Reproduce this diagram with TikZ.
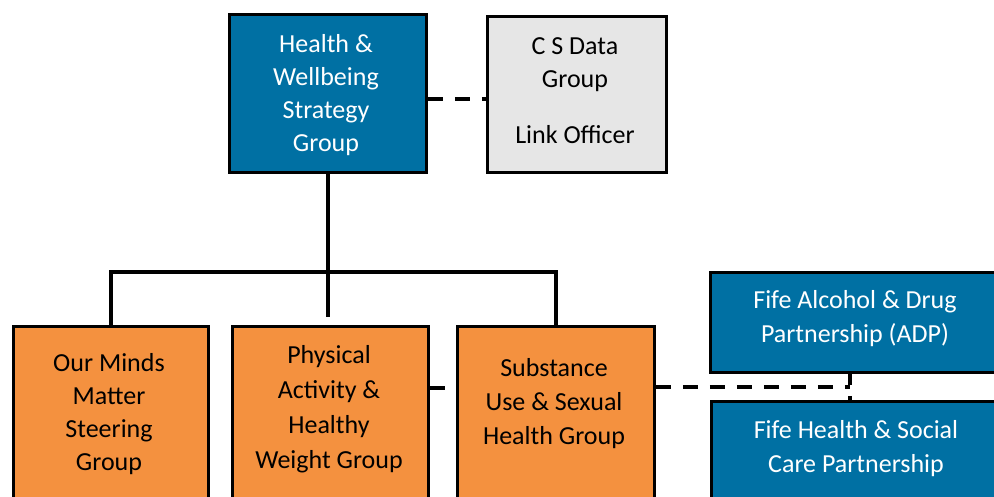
\documentclass[tikz,border=0pt]{standalone}
\usepackage{fontspec}
\setmainfont{Carlito}
\definecolor{hblue}{HTML}{0070A3}
\definecolor{horange}{HTML}{F4913F}
\definecolor{hgray}{HTML}{E6E6E6}
\begin{document}
\begin{tikzpicture}[x=1pt,y=-1pt,
  box/.style={draw=black, line width=2.8pt, rectangle, inner sep=0pt, anchor=north west},
  bluebox/.style={box, fill=hblue},
  orbox/.style={box, fill=horange},
  graybox/.style={box, fill=hgray},
  txt/.style={align=center, inner sep=0pt, font=\fontsize{26}{33}\selectfont},
  tree/.style={draw=black, line width=3.2pt, line join=miter},
  dline/.style={draw=black, line width=3.2pt, dash pattern=on 15pt off 12pt},
  vdline/.style={draw=black, line width=3.2pt, dash pattern=on 11pt off 11pt}]
\useasboundingbox (0,0) rectangle (994,497);
% boxes
\node[bluebox, minimum width=197pt, minimum height=158pt] (hw) at (228,13) {};
\node[graybox, minimum width=179pt, minimum height=156pt] (cs) at (486,15) {};
\node[orbox, minimum width=195pt, minimum height=200pt] (om) at (12,325) {};
\node[orbox, minimum width=196pt, minimum height=200pt] (pa) at (231,325) {};
\node[orbox, minimum width=197pt, minimum height=200pt] (sub) at (456,325) {};
\node[bluebox, minimum width=300pt, minimum height=100pt] (adp) at (709,271) {};
\node[bluebox, minimum width=300pt, minimum height=130pt] (fh) at (710,400) {};
% texts
\node[txt, text=white] (hwt) at (326,95.5) {Health \&\\Wellbeing\\Strategy\\Group};
\node[txt] (cst) at (575,90.5) {C S Data\\Group\\[23pt]Link Officer};
\node[txt] (omt) at (109,414.5) {Our Minds\\Matter\\Steering\\Group};
\node[txt, font=\fontsize{26}{35}\selectfont] (pat) at (329,409) {Physical\\Activity \&\\Healthy\\Weight Group};
\node[txt, font=\fontsize{26}{34}\selectfont] (subt) at (554,404) {Substance\\Use \& Sexual\\Health Group};
\node[txt, text=white, font=\fontsize{26}{34}\selectfont] (adpt) at (855,319) {Fife Alcohol \& Drug\\Partnership (ADP)};
\node[txt, text=white, font=\fontsize{26}{34}\selectfont] (fht) at (856,448.5) {Fife Health \& Social\\Care Partnership};
% connectors
\coordinate (bus) at (0,272);
\coordinate (d1) at (0,99);
\coordinate (d2) at (0,388);
\coordinate (j) at (850,387);
\draw[tree, shorten >=8pt] (hw.south) -- (hw.south |- pa.north);
\draw[tree] (om.north) -- (om.north |- bus) -- (sub.north |- bus) -- (sub.north);
\draw[dline] (hw.east |- d1) -- (cs.west |- d1);
\draw[dline] (pa.east |- d2) -- (sub.west |- d2);
\draw[dline] (sub.east |- j) -- (j);
\draw[vdline] (j |- adp.south) -- (j |- fh.north);
\end{tikzpicture}
\end{document}
